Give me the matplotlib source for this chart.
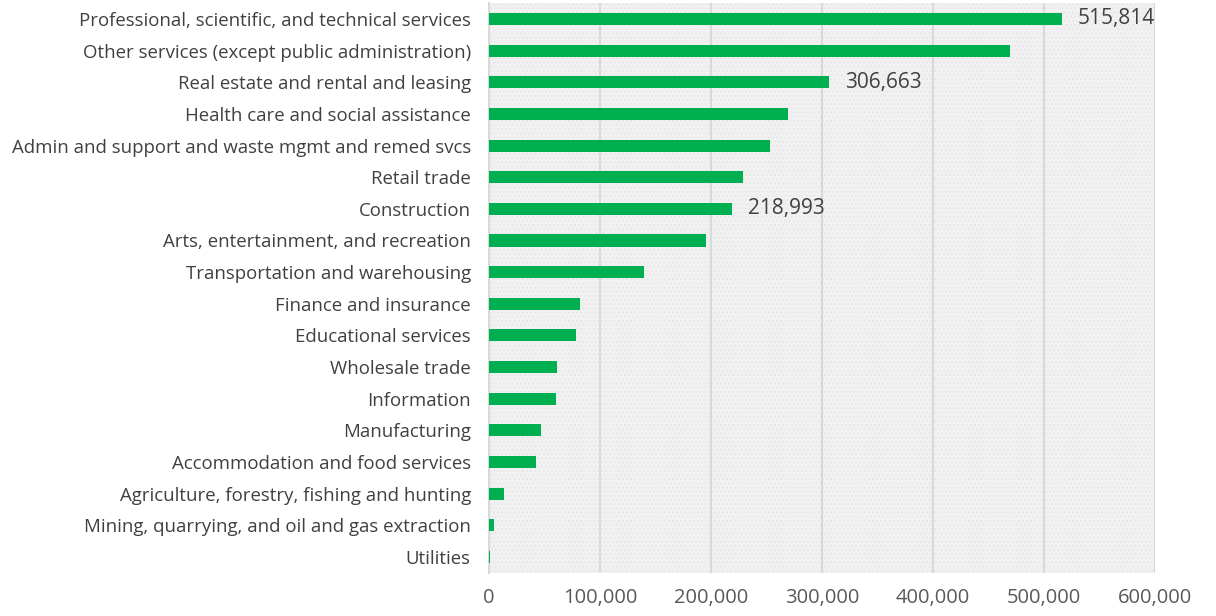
import matplotlib.pyplot as plt
from matplotlib.ticker import FuncFormatter

categories = [
    'Professional, scientific, and technical services',
    'Other services (except public administration)',
    'Real estate and rental and leasing',
    'Health care and social assistance',
    'Admin and support and waste mgmt and remed svcs',
    'Retail trade',
    'Construction',
    'Arts, entertainment, and recreation',
    'Transportation and warehousing',
    'Finance and insurance',
    'Educational services',
    'Wholesale trade',
    'Information',
    'Manufacturing',
    'Accommodation and food services',
    'Agriculture, forestry, fishing and hunting',
    'Mining, quarrying, and oil and gas extraction',
    'Utilities',
]
values = [515814, 469000, 306663, 269400, 253200, 228800, 218993, 195500,
          139600, 82000, 78400, 61300, 60400, 46800, 42300, 13500, 4500, 1500]
labelled = {'Professional, scientific, and technical services',
            'Real estate and rental and leasing', 'Construction'}
xticks = [0, 100000, 200000, 300000, 400000, 500000, 600000]

plt.rcParams['font.family'] = ['Open Sans', 'DejaVu Sans']
plt.rcParams['hatch.linewidth'] = 0.6
fig = plt.figure(figsize=(12.16, 6.16), dpi=100)
ax = fig.add_axes([0.402, 0.070, 0.548, 0.925])

ax.set_facecolor('#f1f1f1')
ax.add_patch(plt.Rectangle((0, 0), 1, 1, transform=ax.transAxes, facecolor='none',
                           edgecolor='#e4e4e4', hatch='....', linewidth=0, zorder=0))

ypos = list(range(len(categories)))
ax.barh(ypos, values, height=0.38, color='#00b050', zorder=3)
for y, cat, v in zip(ypos, categories, values):
    if cat in labelled:
        ax.text(v + 14000, y, f'{v:,}', va='center', ha='left', fontsize=15,
                color='#404040', zorder=4)

ax.set_ylim(len(categories) - 0.5, -0.5)
ax.set_xlim(0, 600000)
ax.set_yticks(ypos)
ax.set_yticklabels(categories, fontsize=13.4, color='#404040')
ax.set_xticks(xticks)
ax.xaxis.set_major_formatter(FuncFormatter(lambda v, p: f'{int(v):,}'))
ax.tick_params(axis='x', labelsize=14.5, colors='#595959', length=0, pad=11)
ax.tick_params(axis='y', length=0, pad=13)
ax.grid(axis='x', color='#d9d9d9', linewidth=1.5, zorder=1)
for s in ['top', 'right', 'bottom']:
    ax.spines[s].set_visible(False)
ax.spines['left'].set_color('#d9d9d9')
ax.spines['left'].set_linewidth(1.5)

fig.savefig('out.png', dpi=100)
